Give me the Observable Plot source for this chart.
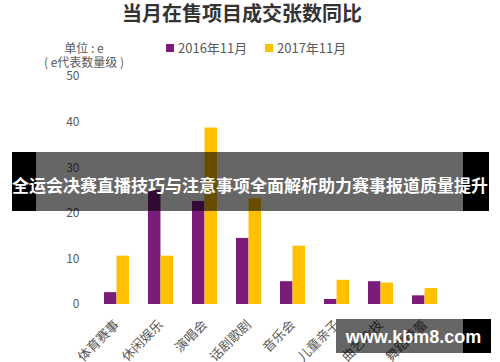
<!DOCTYPE html>
<html><head><meta charset="utf-8">
<script src="https://cdn.jsdelivr.net/npm/d3@7"></script>
<script src="https://cdn.jsdelivr.net/npm/@observablehq/plot@0.6"></script>
<style>
body{margin:0;background:#fff;font-family:"Noto Sans CJK SC","Noto Sans",sans-serif;}
#wrap{position:relative;width:500px;height:362px;overflow:hidden;background:#fff;}
#wrap svg{position:absolute;left:0;top:0;}
.abs{position:absolute;white-space:nowrap;}
</style></head><body><div id="wrap"></div>
<script>
const categories = ["体育赛事","休闲娱乐","演唱会","话剧歌剧","音乐会","儿童亲子","曲艺杂技","舞蹈芭蕾"];
const series = ["2016年11月","2017年11月"];
const v2016 = [2.6, 25.0, 22.6, 14.5, 5.0, 1.1, 5.0, 1.9];
const v2017 = [10.6, 10.6, 38.7, 23.2, 12.8, 5.3, 4.7, 3.5];
const yTicks = [0, 10, 20, 30, 40, 50];
const titleText = "当月在售项目成交张数同比";
const unitLines = ["单位 : e", "( e代表数量级 )"];
const bannerText = "全运会决赛直播技巧与注意事项全面解析助力赛事报道质量提升";
const watermarkText = "www.kbm8.com";
const colors = ["#7B1C7B", "#FFC000"];

const rows = [];
categories.forEach((c, i) => {
  rows.push({cat: c, series: series[0], value: v2016[i]});
  rows.push({cat: c, series: series[1], value: v2017[i]});
});

const W = 500, mL = 93, mR = 52, pI = 0.435, pO = 0.2175;
const step = (W - mL - mR) / (categories.length - pI + 2 * pO);
const half = step * (1 - pI) / 2;

const plot = Plot.plot({
  width: W, height: 362,
  marginTop: 76, marginBottom: 58, marginLeft: mL, marginRight: mR,
  style: {fontFamily: '"Noto Sans CJK SC","Noto Sans",sans-serif', color: "#595959", background: "transparent", overflow: "visible"},
  x: {domain: categories, paddingInner: pI, paddingOuter: pO, label: null, axis: null},
  y: {domain: [0, 50], label: null, axis: null},
  marks: [
    Plot.axisY({ticks: yTicks, tickSize: 0, tickPadding: 14, fontSize: 12, label: null, fill: "#595959"}),
    Plot.axisX({tickSize: 0, tickRotate: -45, tickPadding: 18, fontSize: 13, label: null, fill: "#595959"}),
    Plot.barY(rows.filter(d => d.series === series[0]), {x: "cat", y: "value", fill: colors[0], insetRight: half}),
    Plot.barY(rows.filter(d => d.series === series[1]), {x: "cat", y: "value", fill: colors[1], insetLeft: half})
  ]
});

const wrap = document.getElementById("wrap");
wrap.appendChild(plot);

function div(text, css) {
  const d = document.createElement("div");
  d.className = "abs";
  if (text != null) d.textContent = text;
  Object.assign(d.style, css);
  wrap.appendChild(d);
  return d;
}

// title
div(titleText, {left: "0px", width: "484px", top: "1px", textAlign: "center", fontSize: "20px", fontWeight: "bold", color: "#333", lineHeight: "24px"});
// unit label
div(unitLines[0], {left: "34px", width: "100px", top: "41px", textAlign: "center", fontSize: "12px", color: "#595959", lineHeight: "13px"});
div(unitLines[1], {left: "34px", width: "100px", top: "55px", textAlign: "center", fontSize: "12px", color: "#595959", lineHeight: "13px"});
// legend
const legX = [166, 265];
series.forEach((s, i) => {
  div(null, {left: legX[i] + "px", top: "44px", width: "8px", height: "8px", background: colors[i]});
  div(s, {left: (legX[i] + 12) + "px", top: "39px", fontSize: "13px", color: "#595959", lineHeight: "18px"});
});

// banner overlay
div(null, {left: "12px", top: "152px", width: "24px", height: "59px", background: "#000"});
div(null, {left: "463px", top: "152px", width: "26px", height: "59px", background: "#000"});
div(null, {left: "36px", top: "152px", width: "427px", height: "59px", background: "rgba(0,0,0,0.6)"});
div(bannerText, {left: "0px", width: "500px", top: "174px", textAlign: "center", fontSize: "17px", fontWeight: "bold", color: "#fff", lineHeight: "22px"});

// watermark overlay
div(null, {left: "463px", top: "319px", width: "28px", height: "34px", background: "#000"});
div(null, {left: "336px", top: "319px", width: "127px", height: "34px", background: "rgba(0,0,0,0.6)"});
div(watermarkText, {left: "336px", width: "155px", top: "325px", textAlign: "center", fontSize: "18px", fontWeight: "bold", color: "#fff", lineHeight: "24px", fontFamily: '"Liberation Sans",Arial,sans-serif'});
</script>
</body></html>
